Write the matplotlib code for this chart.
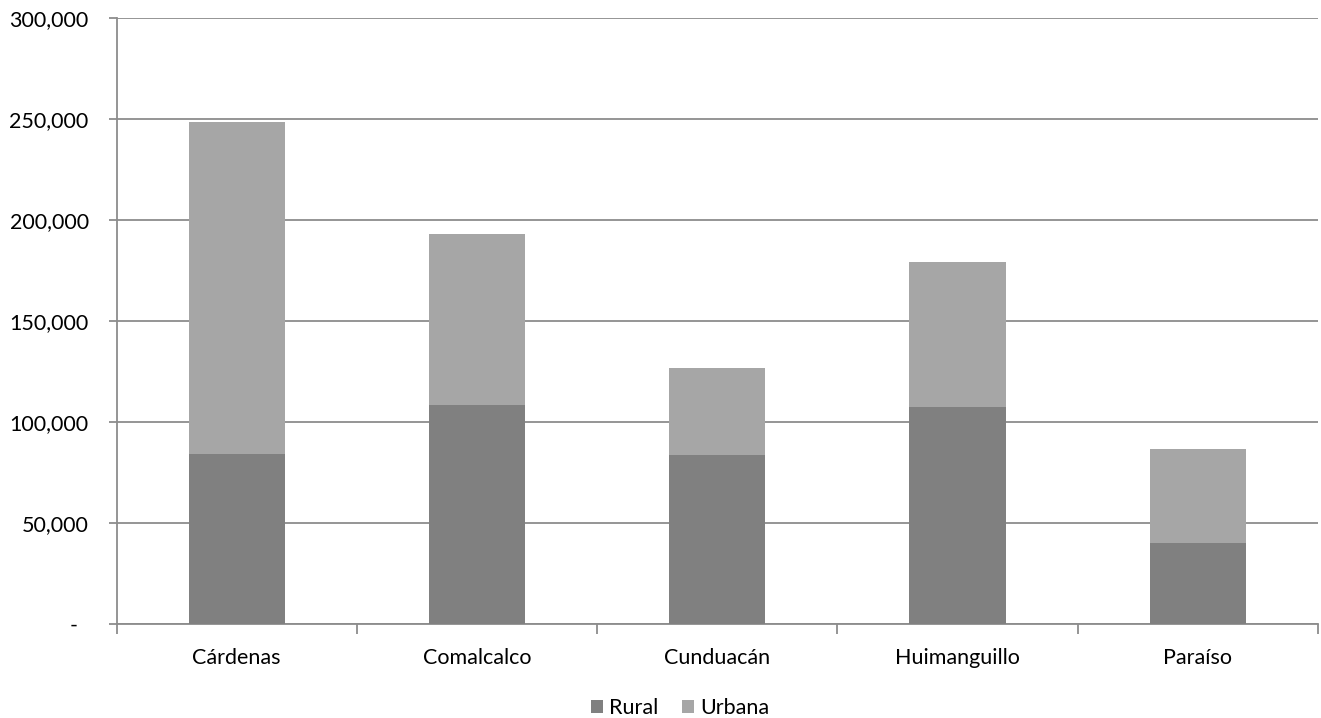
import numpy as np
import matplotlib
matplotlib.use("Agg")
import matplotlib.pyplot as plt
from matplotlib.ticker import FuncFormatter, FixedLocator

plt.rcParams['font.family'] = ['Lato', 'DejaVu Sans']

municipios = ["Cárdenas", "Comalcalco", "Cunduacán", "Huimanguillo", "Paraíso"]
rural = [84200, 108400, 83700, 107400, 40100]
urbana = [164300, 84500, 42900, 71800, 46400]

color_rural = "#808080"
color_urbana = "#a6a6a6"
gris = "#8c8c8c"
tam = 15.5

fig = plt.figure(figsize=(13.21, 7.18), dpi=100)
ax = fig.add_axes([0.0882, 0.1309, 0.9095, 0.844])

x = np.arange(len(municipios))
ax.bar(x, rural, width=0.4, color=color_rural, label="Rural", zorder=3)
ax.bar(x, urbana, width=0.4, bottom=rural, color=color_urbana, label="Urbana", zorder=3)

ax.set_xlim(-0.5, len(municipios) - 0.5)
ax.set_ylim(0, 300000)
ax.set_yticks(np.arange(0, 300001, 50000))

def miles(v, pos):
    if v == 0:
        return "-  "
    return f"{v:,.0f}"

ax.yaxis.set_major_formatter(FuncFormatter(miles))
ax.yaxis.grid(True, color=gris, linewidth=1.3, zorder=0)
ax.tick_params(axis='y', length=6, width=1.3, color=gris, pad=14, labelsize=tam, labelcolor="black")

ax.set_xticks(x)
ax.set_xticklabels(municipios)
ax.xaxis.set_minor_locator(FixedLocator(np.arange(-0.5, len(municipios), 1.0)))
ax.tick_params(axis='x', which='major', length=0, pad=17, labelsize=tam)
ax.tick_params(axis='x', which='minor', length=7, width=1.3, color=gris)

for lado in ["top", "right"]:
    ax.spines[lado].set_visible(False)
for lado in ["left", "bottom"]:
    ax.spines[lado].set_color(gris)
    ax.spines[lado].set_linewidth(1.3)

# leyenda centrada bajo el bloque de barras
ax.legend(loc="upper center", bbox_to_anchor=(0.469, -0.09), ncol=2, frameon=False,
          fontsize=tam, handlelength=0.55, handleheight=0.55, handletextpad=0.3,
          columnspacing=1.1)

fig.savefig("out.png", dpi=100)
